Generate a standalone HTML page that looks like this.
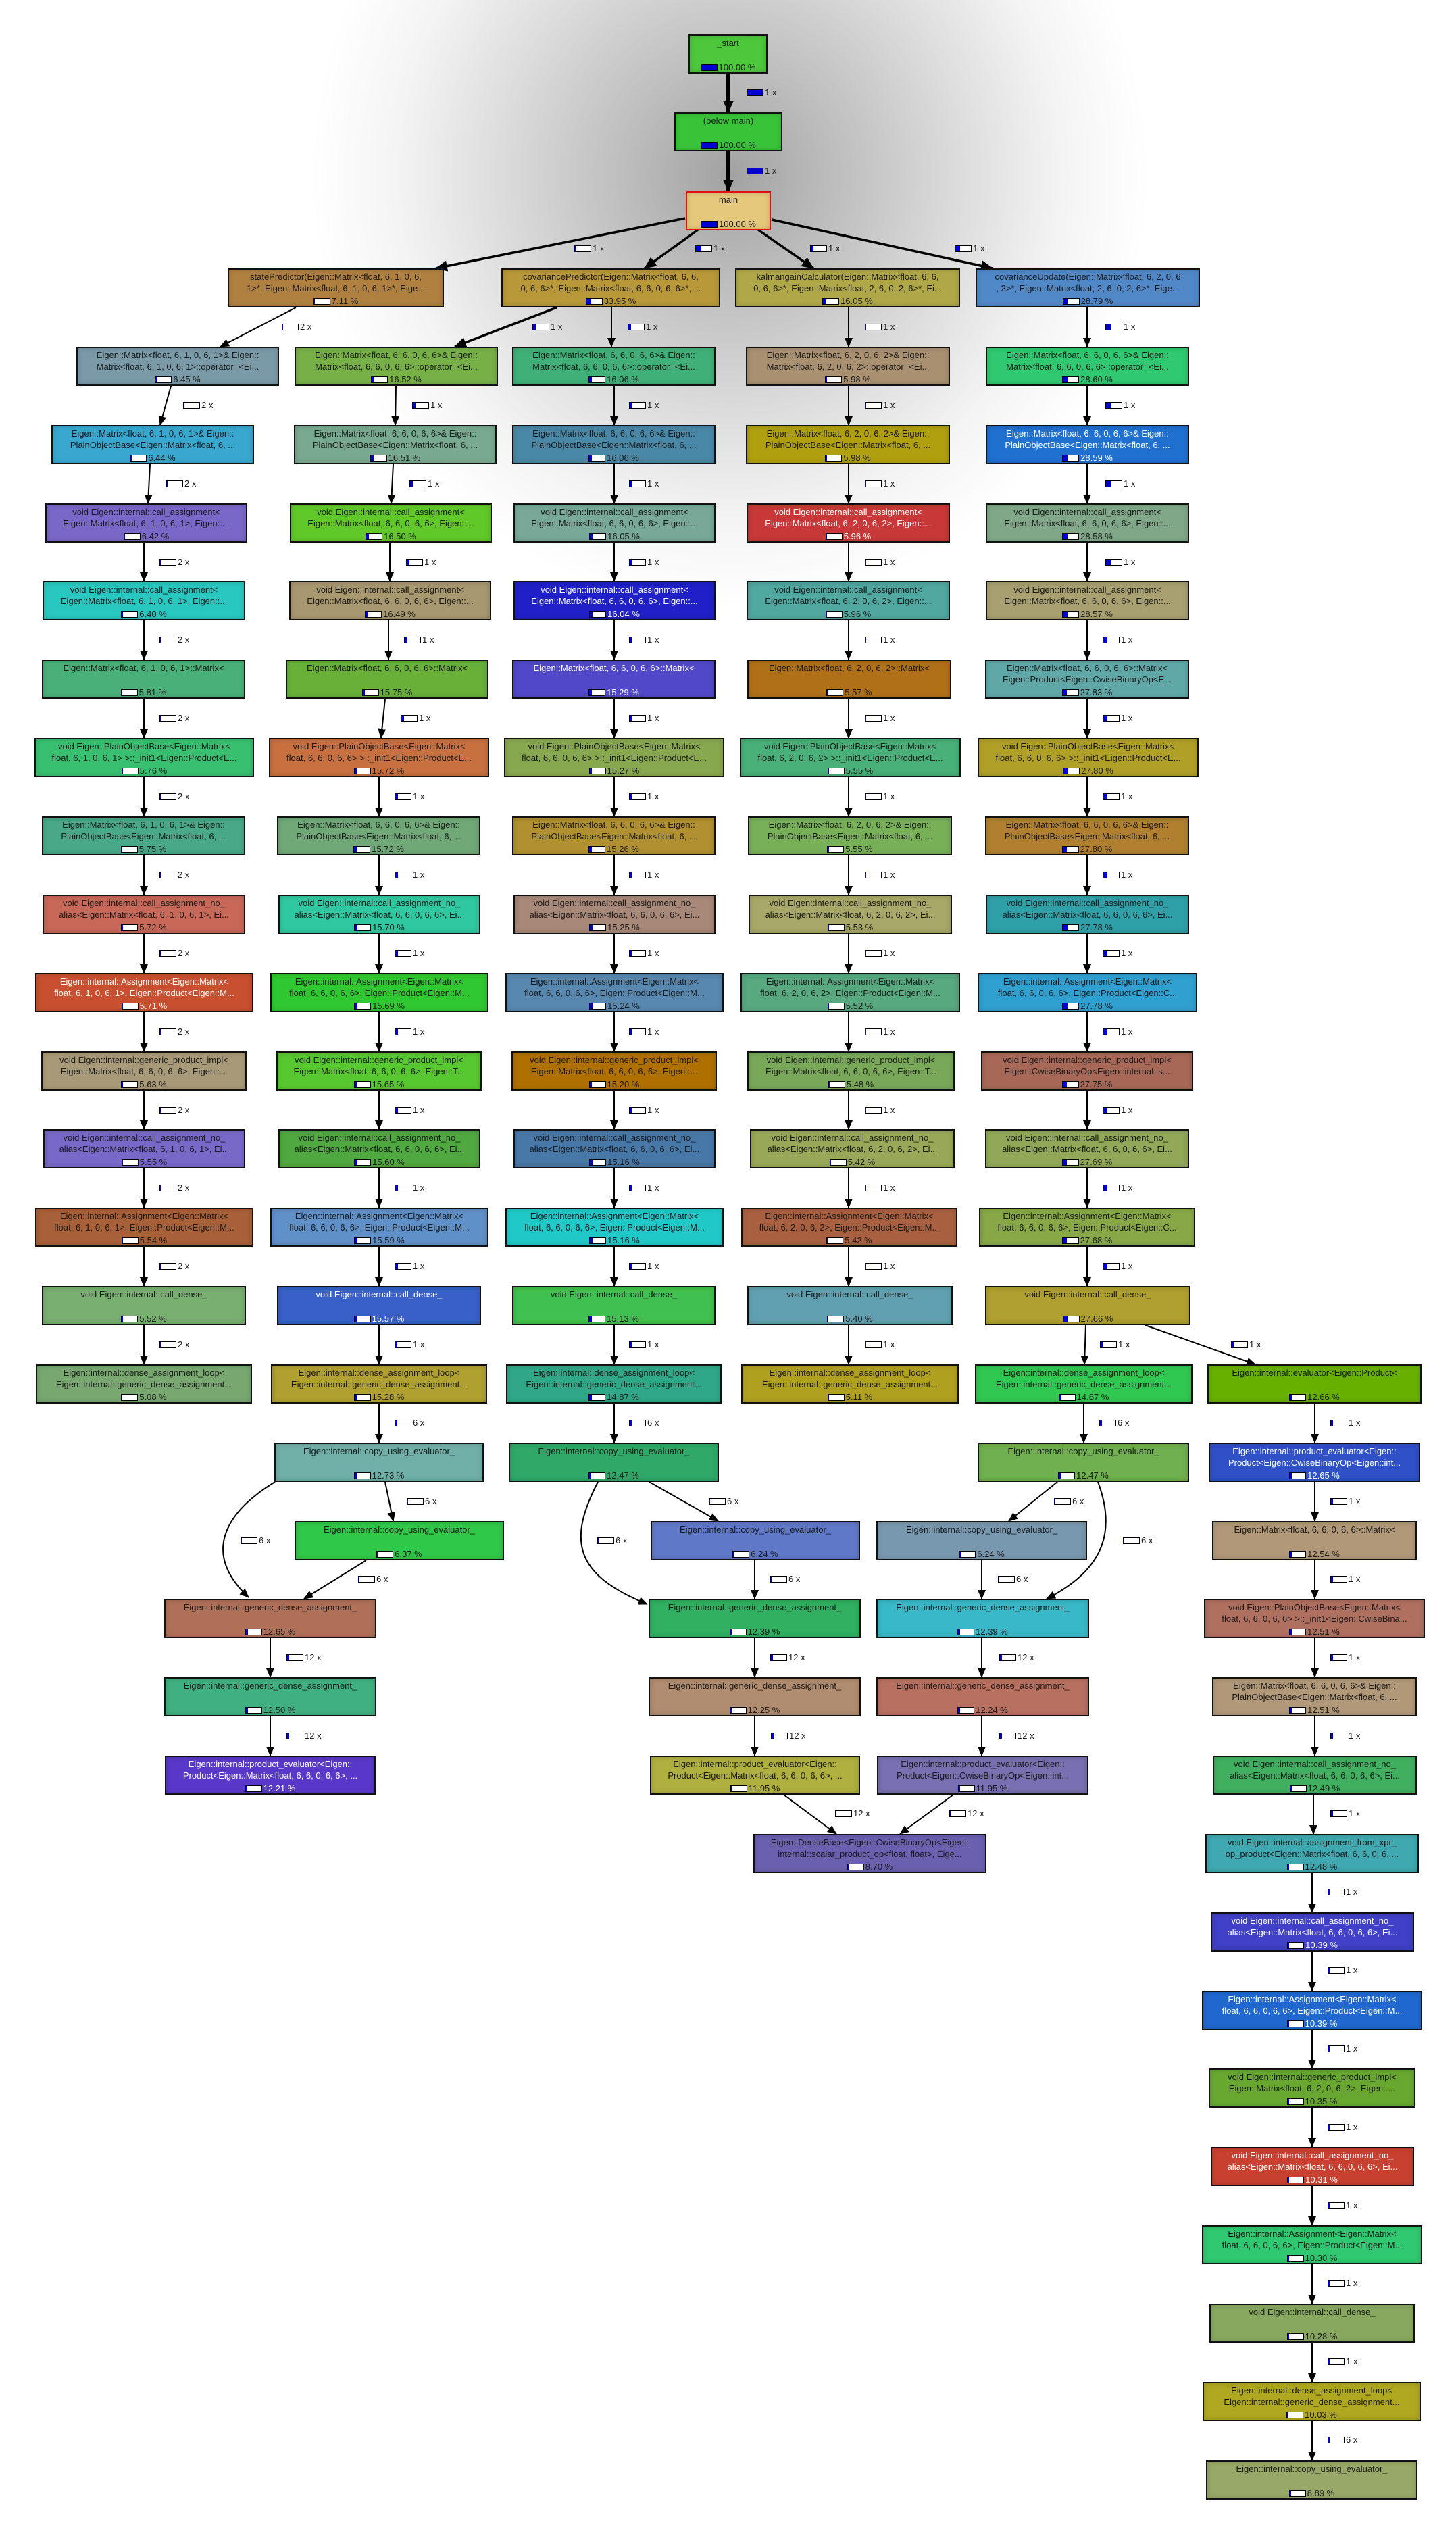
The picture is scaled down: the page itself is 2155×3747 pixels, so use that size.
<!DOCTYPE html>
<html><head><meta charset="utf-8"><style>
html,body{margin:0;padding:0}
body{width:2155px;height:3747px;position:relative;overflow:hidden;background:#fff;font-family:"Liberation Sans",sans-serif;color:#1a1a1a}
#bg{position:absolute;left:0;top:0;width:2155px;height:1100px;background:radial-gradient(ellipse 620px 640px at 1080px 260px,#a2a2a2 0%,#bdbdbd 25%,#dcdcdc 55%,#f4f4f4 80%,rgba(255,255,255,0) 100%)}
svg{position:absolute;left:0;top:0}
.n{position:absolute;height:58px;box-sizing:border-box;border:2px solid #111;box-shadow:inset 0 0 8px rgba(0,0,0,.18)}
.t{position:absolute;top:2px;left:2px;right:2px;text-align:center;font-size:13px;line-height:17px;white-space:nowrap;overflow:hidden}
.p{position:absolute;top:38px;left:0;right:0;text-align:center;font-size:13px;line-height:17px;white-space:nowrap}
i{display:inline-block;width:23px;height:8px;border:1px solid #000;background:#fff;vertical-align:-1px;margin-right:2px;position:relative;overflow:hidden}
b{display:block;height:100%;background:#0000d0}
.w{color:#fff}
.l{position:absolute;font-size:13px;line-height:13px;white-space:nowrap}
</style></head><body>
<div id="bg"></div>
<svg width="2155" height="3747" viewBox="0 0 2155 3747">
<defs><marker id="a" markerUnits="userSpaceOnUse" markerWidth="14" markerHeight="12" refX="13" refY="6" orient="auto"><path d="M0,0 L14,6 L0,12 z" fill="#000"/></marker>
<marker id="A" markerUnits="userSpaceOnUse" markerWidth="18" markerHeight="16" refX="17" refY="8" orient="auto"><path d="M0,0 L18,8 L0,16 z" fill="#000"/></marker></defs>
<g stroke="#000" fill="none" stroke-width="6" marker-end="url(#A)">
<path d="M1078 108 L1078 166"/><path d="M1078 224 L1078 283"/>
</g>
<g stroke="#000" fill="none" stroke-width="3.5" marker-end="url(#A)">
<path d="M1014 323 L645 397"/><path d="M1033 340 L954 397"/><path d="M1122 340 L1204 397"/><path d="M1142 325 L1469 397"/>
<path d="M824 455 L673 513"/>
</g>
<g stroke="#000" fill="none" stroke-width="2" marker-end="url(#a)">
<path d="M438 455 L326 513"/><path d="M905 455 L905 513"/>
<path d="M1256 455 V513"/><path d="M1609 455 V513"/>
<path d="M253 571 L237 629"/><path d="M222 687 L219 745"/>
<path d="M213 803 V860"/><path d="M213 918 V976"/><path d="M213 1034 V1092"/><path d="M213 1150 V1208"/><path d="M213 1266 V1324"/><path d="M213 1382 V1440"/><path d="M213 1498 V1556"/><path d="M213 1614 V1671"/><path d="M213 1729 V1787"/><path d="M213 1845 V1903"/><path d="M213 1961 V2019"/>
<path d="M586 571 L585 629"/><path d="M582 687 L579 745"/><path d="M577 803 V860"/><path d="M575 918 V976"/><path d="M570 1034 L564 1092"/>
<path d="M561 1150 V1208"/><path d="M561 1266 V1324"/><path d="M561 1382 V1440"/><path d="M561 1498 V1556"/><path d="M561 1614 V1671"/><path d="M561 1729 V1787"/><path d="M561 1845 V1903"/><path d="M561 1961 V2019"/><path d="M561 2077 V2135"/>
<path d="M570 2193 L582 2251"/><path d="M407 2193 C330 2240,300 2300,368 2364"/><path d="M542 2309 L450 2366"/><path d="M400 2424 V2482"/><path d="M400 2540 V2598"/>
<path d="M909 571 V629"/><path d="M909 687 V745"/><path d="M909 803 V860"/><path d="M909 918 V976"/><path d="M909 1034 V1092"/><path d="M909 1150 V1208"/><path d="M909 1266 V1324"/><path d="M909 1382 V1440"/><path d="M909 1498 V1556"/><path d="M909 1614 V1671"/><path d="M909 1729 V1787"/><path d="M909 1845 V1903"/><path d="M909 1961 V2019"/><path d="M909 2077 V2135"/>
<path d="M961 2193 L1063 2251"/><path d="M885 2193 C840 2280,850 2330,958 2374"/><path d="M1117 2309 V2366"/><path d="M1117 2424 V2482"/><path d="M1117 2540 V2598"/><path d="M1160 2656 L1238 2714"/>
<path d="M1256 571 V629"/><path d="M1256 687 V745"/><path d="M1256 803 V860"/><path d="M1256 918 V976"/><path d="M1256 1034 V1092"/><path d="M1256 1150 V1208"/><path d="M1256 1266 V1324"/><path d="M1256 1382 V1440"/><path d="M1256 1498 V1556"/><path d="M1256 1614 V1671"/><path d="M1256 1729 V1787"/><path d="M1256 1845 V1903"/><path d="M1256 1961 V2019"/>
<path d="M1609 571 V629"/><path d="M1609 687 V745"/><path d="M1609 803 V860"/><path d="M1609 918 V976"/><path d="M1609 1034 V1092"/><path d="M1609 1150 V1208"/><path d="M1609 1266 V1324"/><path d="M1609 1382 V1440"/><path d="M1609 1498 V1556"/><path d="M1609 1614 V1671"/><path d="M1609 1729 V1787"/><path d="M1609 1845 V1903"/>
<path d="M1607 1961 L1605 2019"/><path d="M1695 1961 L1858 2019"/><path d="M1604 2077 V2135"/>
<path d="M1565 2193 L1493 2251"/><path d="M1625 2193 C1650 2260,1640 2320,1549 2366"/><path d="M1453 2309 V2366"/><path d="M1453 2424 V2482"/><path d="M1453 2540 V2598"/><path d="M1411 2656 L1332 2714"/>
<path d="M1946 2077 V2135"/><path d="M1946 2193 V2251"/><path d="M1946 2309 V2366"/><path d="M1946 2424 V2482"/><path d="M1946 2540 V2598"/><path d="M1944 2656 V2714"/><path d="M1942 2772 V2830"/><path d="M1942 2888 V2946"/><path d="M1942 3004 V3061"/><path d="M1942 3119 V3177"/><path d="M1942 3235 V3293"/><path d="M1942 3351 V3409"/><path d="M1942 3467 V3525"/><path d="M1942 3583 V3641"/>
</g>
</svg>

<!-- top -->
<div class="n" style="left:1019px;top:51px;width:117px;background:#4cc83a"><div class="t">_start</div><div class="p"><i><b style="width:100%"></b></i>100.00 %</div></div>
<div class="n" style="left:998px;top:166px;width:160px;background:#38c438"><div class="t">(below main)</div><div class="p"><i><b style="width:100%"></b></i>100.00 %</div></div>
<div class="n" style="left:1015px;top:283px;width:126px;background:#e6c87c;border-color:#e01010"><div class="t">main</div><div class="p"><i><b style="width:100%"></b></i>100.00 %</div></div>

<!-- row1 -->
<div class="n" style="left:337px;top:397px;width:320px;background:#b08040"><div class="t">statePredictor(Eigen::Matrix&lt;float, 6, 1, 0, 6,<br>1&gt;*, Eigen::Matrix&lt;float, 6, 1, 0, 6, 1&gt;*, Eige...</div><div class="p"><i><b style="width:7%"></b></i>7.11 %</div></div>
<div class="n" style="left:742px;top:397px;width:324px;background:#b89838"><div class="t">covariancePredictor(Eigen::Matrix&lt;float, 6, 6,<br>0, 6, 6&gt;*, Eigen::Matrix&lt;float, 6, 6, 0, 6, 6&gt;*, ...</div><div class="p"><i><b style="width:34%"></b></i>33.95 %</div></div>
<div class="n" style="left:1088px;top:397px;width:333px;background:#b0a848"><div class="t">kalmangainCalculator(Eigen::Matrix&lt;float, 6, 6,<br>0, 6, 6&gt;*, Eigen::Matrix&lt;float, 2, 6, 0, 2, 6&gt;*, Ei...</div><div class="p"><i><b style="width:16%"></b></i>16.05 %</div></div>
<div class="n" style="left:1444px;top:397px;width:332px;background:#5088c8"><div class="t">covarianceUpdate(Eigen::Matrix&lt;float, 6, 2, 0, 6<br>, 2&gt;*, Eigen::Matrix&lt;float, 2, 6, 0, 2, 6&gt;*, Eige...</div><div class="p"><i><b style="width:29%"></b></i>28.79 %</div></div>

<!-- Column A -->
<div class="n" style="left:113px;top:513px;width:300px;background:#7a9aa8"><div class="t">Eigen::Matrix&lt;float, 6, 1, 0, 6, 1&gt;&amp; Eigen::<br>Matrix&lt;float, 6, 1, 0, 6, 1&gt;::operator=&lt;Ei...</div><div class="p"><i><b style="width:6%"></b></i>6.45 %</div></div>
<div class="n" style="left:76px;top:629px;width:300px;background:#38a8d0"><div class="t">Eigen::Matrix&lt;float, 6, 1, 0, 6, 1&gt;&amp; Eigen::<br>PlainObjectBase&lt;Eigen::Matrix&lt;float, 6, ...</div><div class="p"><i><b style="width:6%"></b></i>6.44 %</div></div>
<div class="n" style="left:67px;top:745px;width:299px;background:#7a68c8"><div class="t">void Eigen::internal::call_assignment&lt;<br>Eigen::Matrix&lt;float, 6, 1, 0, 6, 1&gt;, Eigen::...</div><div class="p"><i><b style="width:6%"></b></i>6.42 %</div></div>
<div class="n" style="left:63px;top:860px;width:300px;background:#28c8c0"><div class="t">void Eigen::internal::call_assignment&lt;<br>Eigen::Matrix&lt;float, 6, 1, 0, 6, 1&gt;, Eigen::...</div><div class="p"><i><b style="width:6%"></b></i>6.40 %</div></div>
<div class="n" style="left:62px;top:976px;width:301px;background:#48b078"><div class="t">Eigen::Matrix&lt;float, 6, 1, 0, 6, 1&gt;::Matrix&lt;</div><div class="p"><i><b style="width:6%"></b></i>5.81 %</div></div>
<div class="n" style="left:51px;top:1092px;width:325px;background:#38c070"><div class="t">void Eigen::PlainObjectBase&lt;Eigen::Matrix&lt;<br>float, 6, 1, 0, 6, 1&gt; &gt;::_init1&lt;Eigen::Product&lt;E...</div><div class="p"><i><b style="width:6%"></b></i>5.76 %</div></div>
<div class="n" style="left:62px;top:1208px;width:301px;background:#48a888"><div class="t">Eigen::Matrix&lt;float, 6, 1, 0, 6, 1&gt;&amp; Eigen::<br>PlainObjectBase&lt;Eigen::Matrix&lt;float, 6, ...</div><div class="p"><i><b style="width:6%"></b></i>5.75 %</div></div>
<div class="n" style="left:63px;top:1324px;width:300px;background:#c86858"><div class="t">void Eigen::internal::call_assignment_no_<br>alias&lt;Eigen::Matrix&lt;float, 6, 1, 0, 6, 1&gt;, Ei...</div><div class="p"><i><b style="width:6%"></b></i>5.72 %</div></div>
<div class="n w" style="left:52px;top:1440px;width:323px;background:#c85030"><div class="t">Eigen::internal::Assignment&lt;Eigen::Matrix&lt;<br>float, 6, 1, 0, 6, 1&gt;, Eigen::Product&lt;Eigen::M...</div><div class="p"><i><b style="width:6%"></b></i>5.71 %</div></div>
<div class="n" style="left:61px;top:1556px;width:304px;background:#a89a78"><div class="t">void Eigen::internal::generic_product_impl&lt;<br>Eigen::Matrix&lt;float, 6, 6, 0, 6, 6&gt;, Eigen::...</div><div class="p"><i><b style="width:6%"></b></i>5.63 %</div></div>
<div class="n" style="left:64px;top:1671px;width:299px;background:#7868c8"><div class="t">void Eigen::internal::call_assignment_no_<br>alias&lt;Eigen::Matrix&lt;float, 6, 1, 0, 6, 1&gt;, Ei...</div><div class="p"><i><b style="width:6%"></b></i>5.55 %</div></div>
<div class="n" style="left:52px;top:1787px;width:323px;background:#a86038"><div class="t">Eigen::internal::Assignment&lt;Eigen::Matrix&lt;<br>float, 6, 1, 0, 6, 1&gt;, Eigen::Product&lt;Eigen::M...</div><div class="p"><i><b style="width:6%"></b></i>5.54 %</div></div>
<div class="n" style="left:62px;top:1903px;width:302px;background:#78b070"><div class="t">void Eigen::internal::call_dense_</div><div class="p"><i><b style="width:6%"></b></i>5.52 %</div></div>
<div class="n" style="left:53px;top:2019px;width:320px;background:#78a870"><div class="t">Eigen::internal::dense_assignment_loop&lt;<br>Eigen::internal::generic_dense_assignment...</div><div class="p"><i><b style="width:5%"></b></i>5.08 %</div></div>

<!-- Column B -->
<div class="n" style="left:436px;top:513px;width:301px;background:#78b048"><div class="t">Eigen::Matrix&lt;float, 6, 6, 0, 6, 6&gt;&amp; Eigen::<br>Matrix&lt;float, 6, 6, 0, 6, 6&gt;::operator=&lt;Ei...</div><div class="p"><i><b style="width:17%"></b></i>16.52 %</div></div>
<div class="n" style="left:435px;top:629px;width:300px;background:#78aa90"><div class="t">Eigen::Matrix&lt;float, 6, 6, 0, 6, 6&gt;&amp; Eigen::<br>PlainObjectBase&lt;Eigen::Matrix&lt;float, 6, ...</div><div class="p"><i><b style="width:17%"></b></i>16.51 %</div></div>
<div class="n" style="left:429px;top:745px;width:299px;background:#60c828"><div class="t">void Eigen::internal::call_assignment&lt;<br>Eigen::Matrix&lt;float, 6, 6, 0, 6, 6&gt;, Eigen::...</div><div class="p"><i><b style="width:17%"></b></i>16.50 %</div></div>
<div class="n" style="left:428px;top:860px;width:299px;background:#a89870"><div class="t">void Eigen::internal::call_assignment&lt;<br>Eigen::Matrix&lt;float, 6, 6, 0, 6, 6&gt;, Eigen::...</div><div class="p"><i><b style="width:16%"></b></i>16.49 %</div></div>
<div class="n" style="left:423px;top:976px;width:300px;background:#68b038"><div class="t">Eigen::Matrix&lt;float, 6, 6, 0, 6, 6&gt;::Matrix&lt;</div><div class="p"><i><b style="width:16%"></b></i>15.75 %</div></div>
<div class="n" style="left:398px;top:1092px;width:326px;background:#c87040"><div class="t">void Eigen::PlainObjectBase&lt;Eigen::Matrix&lt;<br>float, 6, 6, 0, 6, 6&gt; &gt;::_init1&lt;Eigen::Product&lt;E...</div><div class="p"><i><b style="width:16%"></b></i>15.72 %</div></div>
<div class="n" style="left:410px;top:1208px;width:301px;background:#70a878"><div class="t">Eigen::Matrix&lt;float, 6, 6, 0, 6, 6&gt;&amp; Eigen::<br>PlainObjectBase&lt;Eigen::Matrix&lt;float, 6, ...</div><div class="p"><i><b style="width:16%"></b></i>15.72 %</div></div>
<div class="n" style="left:412px;top:1324px;width:299px;background:#30c8a0"><div class="t">void Eigen::internal::call_assignment_no_<br>alias&lt;Eigen::Matrix&lt;float, 6, 6, 0, 6, 6&gt;, Ei...</div><div class="p"><i><b style="width:16%"></b></i>15.70 %</div></div>
<div class="n" style="left:400px;top:1440px;width:323px;background:#30c830"><div class="t">Eigen::internal::Assignment&lt;Eigen::Matrix&lt;<br>float, 6, 6, 0, 6, 6&gt;, Eigen::Product&lt;Eigen::M...</div><div class="p"><i><b style="width:16%"></b></i>15.69 %</div></div>
<div class="n" style="left:409px;top:1556px;width:304px;background:#58c830"><div class="t">void Eigen::internal::generic_product_impl&lt;<br>Eigen::Matrix&lt;float, 6, 6, 0, 6, 6&gt;, Eigen::T...</div><div class="p"><i><b style="width:16%"></b></i>15.65 %</div></div>
<div class="n" style="left:412px;top:1671px;width:299px;background:#50a840"><div class="t">void Eigen::internal::call_assignment_no_<br>alias&lt;Eigen::Matrix&lt;float, 6, 6, 0, 6, 6&gt;, Ei...</div><div class="p"><i><b style="width:16%"></b></i>15.60 %</div></div>
<div class="n" style="left:400px;top:1787px;width:323px;background:#6090c8"><div class="t">Eigen::internal::Assignment&lt;Eigen::Matrix&lt;<br>float, 6, 6, 0, 6, 6&gt;, Eigen::Product&lt;Eigen::M...</div><div class="p"><i><b style="width:16%"></b></i>15.59 %</div></div>
<div class="n w" style="left:410px;top:1903px;width:302px;background:#3860c8"><div class="t">void Eigen::internal::call_dense_</div><div class="p"><i><b style="width:16%"></b></i>15.57 %</div></div>
<div class="n" style="left:401px;top:2019px;width:320px;background:#b0a030"><div class="t">Eigen::internal::dense_assignment_loop&lt;<br>Eigen::internal::generic_dense_assignment...</div><div class="p"><i><b style="width:15%"></b></i>15.28 %</div></div>
<div class="n" style="left:406px;top:2135px;width:310px;background:#70b0a8"><div class="t">Eigen::internal::copy_using_evaluator_</div><div class="p"><i><b style="width:13%"></b></i>12.73 %</div></div>
<div class="n" style="left:436px;top:2251px;width:310px;background:#30c848"><div class="t">Eigen::internal::copy_using_evaluator_</div><div class="p"><i><b style="width:6%"></b></i>6.37 %</div></div>
<div class="n" style="left:243px;top:2366px;width:314px;background:#b07058"><div class="t">Eigen::internal::generic_dense_assignment_</div><div class="p"><i><b style="width:13%"></b></i>12.65 %</div></div>
<div class="n" style="left:243px;top:2482px;width:314px;background:#40b080"><div class="t">Eigen::internal::generic_dense_assignment_</div><div class="p"><i><b style="width:13%"></b></i>12.50 %</div></div>
<div class="n w" style="left:244px;top:2598px;width:312px;background:#5838c8"><div class="t">Eigen::internal::product_evaluator&lt;Eigen::<br>Product&lt;Eigen::Matrix&lt;float, 6, 6, 0, 6, 6&gt;, ...</div><div class="p"><i><b style="width:12%"></b></i>12.21 %</div></div>

<!-- Column C -->
<div class="n" style="left:758px;top:513px;width:301px;background:#40b078"><div class="t">Eigen::Matrix&lt;float, 6, 6, 0, 6, 6&gt;&amp; Eigen::<br>Matrix&lt;float, 6, 6, 0, 6, 6&gt;::operator=&lt;Ei...</div><div class="p"><i><b style="width:16%"></b></i>16.06 %</div></div>
<div class="n" style="left:758px;top:629px;width:301px;background:#4a88a8"><div class="t">Eigen::Matrix&lt;float, 6, 6, 0, 6, 6&gt;&amp; Eigen::<br>PlainObjectBase&lt;Eigen::Matrix&lt;float, 6, ...</div><div class="p"><i><b style="width:16%"></b></i>16.06 %</div></div>
<div class="n" style="left:760px;top:745px;width:299px;background:#78a898"><div class="t">void Eigen::internal::call_assignment&lt;<br>Eigen::Matrix&lt;float, 6, 6, 0, 6, 6&gt;, Eigen::...</div><div class="p"><i><b style="width:16%"></b></i>16.05 %</div></div>
<div class="n w" style="left:760px;top:860px;width:299px;background:#2020c8"><div class="t">void Eigen::internal::call_assignment&lt;<br>Eigen::Matrix&lt;float, 6, 6, 0, 6, 6&gt;, Eigen::...</div><div class="p"><i><b style="width:16%"></b></i>16.04 %</div></div>
<div class="n w" style="left:758px;top:976px;width:301px;background:#5048c8"><div class="t">Eigen::Matrix&lt;float, 6, 6, 0, 6, 6&gt;::Matrix&lt;</div><div class="p"><i><b style="width:15%"></b></i>15.29 %</div></div>
<div class="n" style="left:746px;top:1092px;width:326px;background:#88a850"><div class="t">void Eigen::PlainObjectBase&lt;Eigen::Matrix&lt;<br>float, 6, 6, 0, 6, 6&gt; &gt;::_init1&lt;Eigen::Product&lt;E...</div><div class="p"><i><b style="width:15%"></b></i>15.27 %</div></div>
<div class="n" style="left:758px;top:1208px;width:301px;background:#b09030"><div class="t">Eigen::Matrix&lt;float, 6, 6, 0, 6, 6&gt;&amp; Eigen::<br>PlainObjectBase&lt;Eigen::Matrix&lt;float, 6, ...</div><div class="p"><i><b style="width:15%"></b></i>15.26 %</div></div>
<div class="n" style="left:760px;top:1324px;width:299px;background:#a88878"><div class="t">void Eigen::internal::call_assignment_no_<br>alias&lt;Eigen::Matrix&lt;float, 6, 6, 0, 6, 6&gt;, Ei...</div><div class="p"><i><b style="width:15%"></b></i>15.25 %</div></div>
<div class="n" style="left:748px;top:1440px;width:323px;background:#5888b0"><div class="t">Eigen::internal::Assignment&lt;Eigen::Matrix&lt;<br>float, 6, 6, 0, 6, 6&gt;, Eigen::Product&lt;Eigen::M...</div><div class="p"><i><b style="width:15%"></b></i>15.24 %</div></div>
<div class="n" style="left:757px;top:1556px;width:304px;background:#b07000"><div class="t">void Eigen::internal::generic_product_impl&lt;<br>Eigen::Matrix&lt;float, 6, 6, 0, 6, 6&gt;, Eigen::...</div><div class="p"><i><b style="width:15%"></b></i>15.20 %</div></div>
<div class="n" style="left:760px;top:1671px;width:299px;background:#4878a8"><div class="t">void Eigen::internal::call_assignment_no_<br>alias&lt;Eigen::Matrix&lt;float, 6, 6, 0, 6, 6&gt;, Ei...</div><div class="p"><i><b style="width:15%"></b></i>15.16 %</div></div>
<div class="n" style="left:748px;top:1787px;width:323px;background:#20c8c8"><div class="t">Eigen::internal::Assignment&lt;Eigen::Matrix&lt;<br>float, 6, 6, 0, 6, 6&gt;, Eigen::Product&lt;Eigen::M...</div><div class="p"><i><b style="width:15%"></b></i>15.16 %</div></div>
<div class="n" style="left:758px;top:1903px;width:301px;background:#40c050"><div class="t">void Eigen::internal::call_dense_</div><div class="p"><i><b style="width:15%"></b></i>15.13 %</div></div>
<div class="n" style="left:749px;top:2019px;width:319px;background:#30a888"><div class="t">Eigen::internal::dense_assignment_loop&lt;<br>Eigen::internal::generic_dense_assignment...</div><div class="p"><i><b style="width:15%"></b></i>14.87 %</div></div>
<div class="n" style="left:753px;top:2135px;width:311px;background:#30a868"><div class="t">Eigen::internal::copy_using_evaluator_</div><div class="p"><i><b style="width:12%"></b></i>12.47 %</div></div>
<div class="n" style="left:963px;top:2251px;width:310px;background:#6078c8"><div class="t">Eigen::internal::copy_using_evaluator_</div><div class="p"><i><b style="width:6%"></b></i>6.24 %</div></div>
<div class="n" style="left:960px;top:2366px;width:314px;background:#30b060"><div class="t">Eigen::internal::generic_dense_assignment_</div><div class="p"><i><b style="width:12%"></b></i>12.39 %</div></div>
<div class="n" style="left:960px;top:2482px;width:314px;background:#b08c70"><div class="t">Eigen::internal::generic_dense_assignment_</div><div class="p"><i><b style="width:12%"></b></i>12.25 %</div></div>
<div class="n" style="left:962px;top:2598px;width:311px;background:#b0b040"><div class="t">Eigen::internal::product_evaluator&lt;Eigen::<br>Product&lt;Eigen::Matrix&lt;float, 6, 6, 0, 6, 6&gt;, ...</div><div class="p"><i><b style="width:12%"></b></i>11.95 %</div></div>
<div class="n" style="left:1115px;top:2714px;width:345px;background:#6a60b0"><div class="t">Eigen::DenseBase&lt;Eigen::CwiseBinaryOp&lt;Eigen::<br>internal::scalar_product_op&lt;float, float&gt;, Eige...</div><div class="p"><i><b style="width:9%"></b></i>8.70 %</div></div>

<!-- Column D -->
<div class="n" style="left:1104px;top:513px;width:302px;background:#a89070"><div class="t">Eigen::Matrix&lt;float, 6, 2, 0, 6, 2&gt;&amp; Eigen::<br>Matrix&lt;float, 6, 2, 0, 6, 2&gt;::operator=&lt;Ei...</div><div class="p"><i><b style="width:6%"></b></i>5.98 %</div></div>
<div class="n" style="left:1104px;top:629px;width:302px;background:#b0a010"><div class="t">Eigen::Matrix&lt;float, 6, 2, 0, 6, 2&gt;&amp; Eigen::<br>PlainObjectBase&lt;Eigen::Matrix&lt;float, 6, ...</div><div class="p"><i><b style="width:6%"></b></i>5.98 %</div></div>
<div class="n w" style="left:1105px;top:745px;width:301px;background:#c83838"><div class="t">void Eigen::internal::call_assignment&lt;<br>Eigen::Matrix&lt;float, 6, 2, 0, 6, 2&gt;, Eigen::...</div><div class="p"><i><b style="width:6%"></b></i>5.96 %</div></div>
<div class="n" style="left:1105px;top:860px;width:301px;background:#50a8a0"><div class="t">void Eigen::internal::call_assignment&lt;<br>Eigen::Matrix&lt;float, 6, 2, 0, 6, 2&gt;, Eigen::...</div><div class="p"><i><b style="width:6%"></b></i>5.96 %</div></div>
<div class="n" style="left:1106px;top:976px;width:302px;background:#b07018"><div class="t">Eigen::Matrix&lt;float, 6, 2, 0, 6, 2&gt;::Matrix&lt;</div><div class="p"><i><b style="width:6%"></b></i>5.57 %</div></div>
<div class="n" style="left:1095px;top:1092px;width:327px;background:#48b078"><div class="t">void Eigen::PlainObjectBase&lt;Eigen::Matrix&lt;<br>float, 6, 2, 0, 6, 2&gt; &gt;::_init1&lt;Eigen::Product&lt;E...</div><div class="p"><i><b style="width:6%"></b></i>5.55 %</div></div>
<div class="n" style="left:1107px;top:1208px;width:302px;background:#78b058"><div class="t">Eigen::Matrix&lt;float, 6, 2, 0, 6, 2&gt;&amp; Eigen::<br>PlainObjectBase&lt;Eigen::Matrix&lt;float, 6, ...</div><div class="p"><i><b style="width:6%"></b></i>5.55 %</div></div>
<div class="n" style="left:1108px;top:1324px;width:301px;background:#a8a868"><div class="t">void Eigen::internal::call_assignment_no_<br>alias&lt;Eigen::Matrix&lt;float, 6, 2, 0, 6, 2&gt;, Ei...</div><div class="p"><i><b style="width:6%"></b></i>5.53 %</div></div>
<div class="n" style="left:1096px;top:1440px;width:325px;background:#58a880"><div class="t">Eigen::internal::Assignment&lt;Eigen::Matrix&lt;<br>float, 6, 2, 0, 6, 2&gt;, Eigen::Product&lt;Eigen::M...</div><div class="p"><i><b style="width:6%"></b></i>5.52 %</div></div>
<div class="n" style="left:1106px;top:1556px;width:307px;background:#78a858"><div class="t">void Eigen::internal::generic_product_impl&lt;<br>Eigen::Matrix&lt;float, 6, 6, 0, 6, 6&gt;, Eigen::T...</div><div class="p"><i><b style="width:5%"></b></i>5.48 %</div></div>
<div class="n" style="left:1110px;top:1671px;width:303px;background:#98a858"><div class="t">void Eigen::internal::call_assignment_no_<br>alias&lt;Eigen::Matrix&lt;float, 6, 2, 0, 6, 2&gt;, Ei...</div><div class="p"><i><b style="width:5%"></b></i>5.42 %</div></div>
<div class="n" style="left:1097px;top:1787px;width:320px;background:#a86040"><div class="t">Eigen::internal::Assignment&lt;Eigen::Matrix&lt;<br>float, 6, 2, 0, 6, 2&gt;, Eigen::Product&lt;Eigen::M...</div><div class="p"><i><b style="width:5%"></b></i>5.42 %</div></div>
<div class="n" style="left:1106px;top:1903px;width:304px;background:#60a0b0"><div class="t">void Eigen::internal::call_dense_</div><div class="p"><i><b style="width:5%"></b></i>5.40 %</div></div>
<div class="n" style="left:1097px;top:2019px;width:322px;background:#b0a020"><div class="t">Eigen::internal::dense_assignment_loop&lt;<br>Eigen::internal::generic_dense_assignment...</div><div class="p"><i><b style="width:5%"></b></i>5.11 %</div></div>

<!-- Column E -->
<div class="n" style="left:1459px;top:513px;width:301px;background:#30c870"><div class="t">Eigen::Matrix&lt;float, 6, 6, 0, 6, 6&gt;&amp; Eigen::<br>Matrix&lt;float, 6, 6, 0, 6, 6&gt;::operator=&lt;Ei...</div><div class="p"><i><b style="width:29%"></b></i>28.60 %</div></div>
<div class="n w" style="left:1459px;top:629px;width:301px;background:#2070d0"><div class="t">Eigen::Matrix&lt;float, 6, 6, 0, 6, 6&gt;&amp; Eigen::<br>PlainObjectBase&lt;Eigen::Matrix&lt;float, 6, ...</div><div class="p"><i><b style="width:29%"></b></i>28.59 %</div></div>
<div class="n" style="left:1459px;top:745px;width:301px;background:#80a888"><div class="t">void Eigen::internal::call_assignment&lt;<br>Eigen::Matrix&lt;float, 6, 6, 0, 6, 6&gt;, Eigen::...</div><div class="p"><i><b style="width:29%"></b></i>28.58 %</div></div>
<div class="n" style="left:1459px;top:860px;width:301px;background:#a8a070"><div class="t">void Eigen::internal::call_assignment&lt;<br>Eigen::Matrix&lt;float, 6, 6, 0, 6, 6&gt;, Eigen::...</div><div class="p"><i><b style="width:29%"></b></i>28.57 %</div></div>
<div class="n" style="left:1458px;top:976px;width:302px;background:#60a8a8"><div class="t">Eigen::Matrix&lt;float, 6, 6, 0, 6, 6&gt;::Matrix&lt;<br>Eigen::Product&lt;Eigen::CwiseBinaryOp&lt;E...</div><div class="p"><i><b style="width:28%"></b></i>27.83 %</div></div>
<div class="n" style="left:1447px;top:1092px;width:327px;background:#b0a028"><div class="t">void Eigen::PlainObjectBase&lt;Eigen::Matrix&lt;<br>float, 6, 6, 0, 6, 6&gt; &gt;::_init1&lt;Eigen::Product&lt;E...</div><div class="p"><i><b style="width:28%"></b></i>27.80 %</div></div>
<div class="n" style="left:1458px;top:1208px;width:302px;background:#b08030"><div class="t">Eigen::Matrix&lt;float, 6, 6, 0, 6, 6&gt;&amp; Eigen::<br>PlainObjectBase&lt;Eigen::Matrix&lt;float, 6, ...</div><div class="p"><i><b style="width:28%"></b></i>27.80 %</div></div>
<div class="n" style="left:1459px;top:1324px;width:301px;background:#30a0a8"><div class="t">void Eigen::internal::call_assignment_no_<br>alias&lt;Eigen::Matrix&lt;float, 6, 6, 0, 6, 6&gt;, Ei...</div><div class="p"><i><b style="width:28%"></b></i>27.78 %</div></div>
<div class="n" style="left:1447px;top:1440px;width:325px;background:#30a0d0"><div class="t">Eigen::internal::Assignment&lt;Eigen::Matrix&lt;<br>float, 6, 6, 0, 6, 6&gt;, Eigen::Product&lt;Eigen::C...</div><div class="p"><i><b style="width:28%"></b></i>27.78 %</div></div>
<div class="n" style="left:1452px;top:1556px;width:314px;background:#a86858"><div class="t">void Eigen::internal::generic_product_impl&lt;<br>Eigen::CwiseBinaryOp&lt;Eigen::internal::s...</div><div class="p"><i><b style="width:28%"></b></i>27.75 %</div></div>
<div class="n" style="left:1458px;top:1671px;width:302px;background:#90a858"><div class="t">void Eigen::internal::call_assignment_no_<br>alias&lt;Eigen::Matrix&lt;float, 6, 6, 0, 6, 6&gt;, Ei...</div><div class="p"><i><b style="width:28%"></b></i>27.69 %</div></div>
<div class="n" style="left:1449px;top:1787px;width:320px;background:#88a848"><div class="t">Eigen::internal::Assignment&lt;Eigen::Matrix&lt;<br>float, 6, 6, 0, 6, 6&gt;, Eigen::Product&lt;Eigen::C...</div><div class="p"><i><b style="width:28%"></b></i>27.68 %</div></div>
<div class="n" style="left:1458px;top:1903px;width:304px;background:#b0a030"><div class="t">void Eigen::internal::call_dense_</div><div class="p"><i><b style="width:28%"></b></i>27.66 %</div></div>
<div class="n" style="left:1443px;top:2019px;width:322px;background:#30c850"><div class="t">Eigen::internal::dense_assignment_loop&lt;<br>Eigen::internal::generic_dense_assignment...</div><div class="p"><i><b style="width:15%"></b></i>14.87 %</div></div>
<div class="n" style="left:1447px;top:2135px;width:313px;background:#70b050"><div class="t">Eigen::internal::copy_using_evaluator_</div><div class="p"><i><b style="width:12%"></b></i>12.47 %</div></div>
<div class="n" style="left:1297px;top:2251px;width:312px;background:#7898b0"><div class="t">Eigen::internal::copy_using_evaluator_</div><div class="p"><i><b style="width:6%"></b></i>6.24 %</div></div>
<div class="n" style="left:1297px;top:2366px;width:315px;background:#38b8c8"><div class="t">Eigen::internal::generic_dense_assignment_</div><div class="p"><i><b style="width:12%"></b></i>12.39 %</div></div>
<div class="n" style="left:1297px;top:2482px;width:315px;background:#b87060"><div class="t">Eigen::internal::generic_dense_assignment_</div><div class="p"><i><b style="width:12%"></b></i>12.24 %</div></div>
<div class="n" style="left:1298px;top:2598px;width:313px;background:#7870b0"><div class="t">Eigen::internal::product_evaluator&lt;Eigen::<br>Product&lt;Eigen::CwiseBinaryOp&lt;Eigen::int...</div><div class="p"><i><b style="width:12%"></b></i>11.95 %</div></div>

<!-- Column F -->
<div class="n" style="left:1787px;top:2019px;width:317px;background:#68b000"><div class="t">Eigen::internal::evaluator&lt;Eigen::Product&lt;</div><div class="p"><i><b style="width:13%"></b></i>12.66 %</div></div>
<div class="n w" style="left:1789px;top:2135px;width:313px;background:#3050c8"><div class="t">Eigen::internal::product_evaluator&lt;Eigen::<br>Product&lt;Eigen::CwiseBinaryOp&lt;Eigen::int...</div><div class="p"><i><b style="width:13%"></b></i>12.65 %</div></div>
<div class="n" style="left:1794px;top:2251px;width:303px;background:#b09878"><div class="t">Eigen::Matrix&lt;float, 6, 6, 0, 6, 6&gt;::Matrix&lt;</div><div class="p"><i><b style="width:13%"></b></i>12.54 %</div></div>
<div class="n" style="left:1782px;top:2366px;width:327px;background:#b07060"><div class="t">void Eigen::PlainObjectBase&lt;Eigen::Matrix&lt;<br>float, 6, 6, 0, 6, 6&gt; &gt;::_init1&lt;Eigen::CwiseBina...</div><div class="p"><i><b style="width:13%"></b></i>12.51 %</div></div>
<div class="n" style="left:1794px;top:2482px;width:303px;background:#b09878"><div class="t">Eigen::Matrix&lt;float, 6, 6, 0, 6, 6&gt;&amp; Eigen::<br>PlainObjectBase&lt;Eigen::Matrix&lt;float, 6, ...</div><div class="p"><i><b style="width:13%"></b></i>12.51 %</div></div>
<div class="n" style="left:1795px;top:2598px;width:302px;background:#40b060"><div class="t">void Eigen::internal::call_assignment_no_<br>alias&lt;Eigen::Matrix&lt;float, 6, 6, 0, 6, 6&gt;, Ei...</div><div class="p"><i><b style="width:12%"></b></i>12.49 %</div></div>
<div class="n" style="left:1784px;top:2714px;width:316px;background:#40a8b0"><div class="t">void Eigen::internal::assignment_from_xpr_<br>op_product&lt;Eigen::Matrix&lt;float, 6, 6, 0, 6, ...</div><div class="p"><i><b style="width:12%"></b></i>12.48 %</div></div>
<div class="n w" style="left:1792px;top:2830px;width:301px;background:#4040c8"><div class="t">void Eigen::internal::call_assignment_no_<br>alias&lt;Eigen::Matrix&lt;float, 6, 6, 0, 6, 6&gt;, Ei...</div><div class="p"><i><b style="width:10%"></b></i>10.39 %</div></div>
<div class="n w" style="left:1779px;top:2946px;width:326px;background:#2068d0"><div class="t">Eigen::internal::Assignment&lt;Eigen::Matrix&lt;<br>float, 6, 6, 0, 6, 6&gt;, Eigen::Product&lt;Eigen::M...</div><div class="p"><i><b style="width:10%"></b></i>10.39 %</div></div>
<div class="n" style="left:1789px;top:3061px;width:306px;background:#68a830"><div class="t">void Eigen::internal::generic_product_impl&lt;<br>Eigen::Matrix&lt;float, 6, 2, 0, 6, 2&gt;, Eigen::...</div><div class="p"><i><b style="width:10%"></b></i>10.35 %</div></div>
<div class="n w" style="left:1792px;top:3177px;width:301px;background:#c84030"><div class="t">void Eigen::internal::call_assignment_no_<br>alias&lt;Eigen::Matrix&lt;float, 6, 6, 0, 6, 6&gt;, Ei...</div><div class="p"><i><b style="width:10%"></b></i>10.31 %</div></div>
<div class="n" style="left:1779px;top:3293px;width:326px;background:#30c870"><div class="t">Eigen::internal::Assignment&lt;Eigen::Matrix&lt;<br>float, 6, 6, 0, 6, 6&gt;, Eigen::Product&lt;Eigen::M...</div><div class="p"><i><b style="width:10%"></b></i>10.30 %</div></div>
<div class="n" style="left:1790px;top:3409px;width:304px;background:#88a860"><div class="t">void Eigen::internal::call_dense_</div><div class="p"><i><b style="width:10%"></b></i>10.28 %</div></div>
<div class="n" style="left:1780px;top:3525px;width:323px;background:#b0a820"><div class="t">Eigen::internal::dense_assignment_loop&lt;<br>Eigen::internal::generic_dense_assignment...</div><div class="p"><i><b style="width:10%"></b></i>10.03 %</div></div>
<div class="n" style="left:1785px;top:3641px;width:313px;background:#98a868"><div class="t">Eigen::internal::copy_using_evaluator_</div><div class="p"><i><b style="width:9%"></b></i>8.89 %</div></div>

<!-- edge labels -->
<div class="l" style="left:1105px;top:130px"><i><b style="width:100%"></b></i>1 x</div>
<div class="l" style="left:1105px;top:246px"><i><b style="width:100%"></b></i>1 x</div>
<div class="l" style="left:850px;top:361px"><i><b style="width:7%"></b></i>1 x</div>
<div class="l" style="left:1029px;top:361px"><i><b style="width:34%"></b></i>1 x</div>
<div class="l" style="left:1199px;top:361px"><i><b style="width:16%"></b></i>1 x</div>
<div class="l" style="left:1413px;top:361px"><i><b style="width:29%"></b></i>1 x</div>

<div class="l" style="left:417px;top:477px"><i><b style="width:6%"></b></i>2 x</div>
<div class="l" style="left:271px;top:593px"><i><b style="width:6%"></b></i>2 x</div>
<div class="l" style="left:246px;top:709px"><i><b style="width:6%"></b></i>2 x</div>
<div class="l" style="left:236px;top:825px"><i><b style="width:6%"></b></i>2 x</div>
<div class="l" style="left:236px;top:940px"><i><b style="width:6%"></b></i>2 x</div>
<div class="l" style="left:236px;top:1056px"><i><b style="width:6%"></b></i>2 x</div>
<div class="l" style="left:236px;top:1172px"><i><b style="width:6%"></b></i>2 x</div>
<div class="l" style="left:236px;top:1288px"><i><b style="width:6%"></b></i>2 x</div>
<div class="l" style="left:236px;top:1404px"><i><b style="width:6%"></b></i>2 x</div>
<div class="l" style="left:236px;top:1520px"><i><b style="width:6%"></b></i>2 x</div>
<div class="l" style="left:236px;top:1636px"><i><b style="width:6%"></b></i>2 x</div>
<div class="l" style="left:236px;top:1751px"><i><b style="width:6%"></b></i>2 x</div>
<div class="l" style="left:236px;top:1867px"><i><b style="width:6%"></b></i>2 x</div>
<div class="l" style="left:236px;top:1983px"><i><b style="width:6%"></b></i>2 x</div>

<div class="l" style="left:788px;top:477px"><i><b style="width:17%"></b></i>1 x</div>
<div class="l" style="left:929px;top:477px"><i><b style="width:16%"></b></i>1 x</div>
<div class="l" style="left:610px;top:593px"><i><b style="width:17%"></b></i>1 x</div>
<div class="l" style="left:606px;top:709px"><i><b style="width:17%"></b></i>1 x</div>
<div class="l" style="left:601px;top:825px"><i><b style="width:16%"></b></i>1 x</div>
<div class="l" style="left:598px;top:940px"><i><b style="width:16%"></b></i>1 x</div>
<div class="l" style="left:593px;top:1056px"><i><b style="width:16%"></b></i>1 x</div>
<div class="l" style="left:584px;top:1172px"><i><b style="width:16%"></b></i>1 x</div>
<div class="l" style="left:584px;top:1288px"><i><b style="width:16%"></b></i>1 x</div>
<div class="l" style="left:584px;top:1404px"><i><b style="width:16%"></b></i>1 x</div>
<div class="l" style="left:584px;top:1520px"><i><b style="width:16%"></b></i>1 x</div>
<div class="l" style="left:584px;top:1636px"><i><b style="width:16%"></b></i>1 x</div>
<div class="l" style="left:584px;top:1751px"><i><b style="width:16%"></b></i>1 x</div>
<div class="l" style="left:584px;top:1867px"><i><b style="width:16%"></b></i>1 x</div>
<div class="l" style="left:584px;top:1983px"><i><b style="width:15%"></b></i>1 x</div>
<div class="l" style="left:584px;top:2099px"><i><b style="width:13%"></b></i>6 x</div>
<div class="l" style="left:602px;top:2215px"><i><b style="width:6%"></b></i>6 x</div>
<div class="l" style="left:356px;top:2273px"><i><b style="width:6%"></b></i>6 x</div>
<div class="l" style="left:530px;top:2330px"><i><b style="width:6%"></b></i>6 x</div>
<div class="l" style="left:424px;top:2446px"><i><b style="width:12%"></b></i>12 x</div>
<div class="l" style="left:424px;top:2562px"><i><b style="width:12%"></b></i>12 x</div>

<div class="l" style="left:931px;top:593px"><i><b style="width:16%"></b></i>1 x</div>
<div class="l" style="left:931px;top:709px"><i><b style="width:16%"></b></i>1 x</div>
<div class="l" style="left:931px;top:825px"><i><b style="width:16%"></b></i>1 x</div>
<div class="l" style="left:931px;top:940px"><i><b style="width:15%"></b></i>1 x</div>
<div class="l" style="left:931px;top:1056px"><i><b style="width:15%"></b></i>1 x</div>
<div class="l" style="left:931px;top:1172px"><i><b style="width:15%"></b></i>1 x</div>
<div class="l" style="left:931px;top:1288px"><i><b style="width:15%"></b></i>1 x</div>
<div class="l" style="left:931px;top:1404px"><i><b style="width:15%"></b></i>1 x</div>
<div class="l" style="left:931px;top:1520px"><i><b style="width:15%"></b></i>1 x</div>
<div class="l" style="left:931px;top:1636px"><i><b style="width:15%"></b></i>1 x</div>
<div class="l" style="left:931px;top:1751px"><i><b style="width:15%"></b></i>1 x</div>
<div class="l" style="left:931px;top:1867px"><i><b style="width:15%"></b></i>1 x</div>
<div class="l" style="left:931px;top:1983px"><i><b style="width:15%"></b></i>1 x</div>
<div class="l" style="left:931px;top:2099px"><i><b style="width:12%"></b></i>6 x</div>
<div class="l" style="left:1049px;top:2215px"><i><b style="width:6%"></b></i>6 x</div>
<div class="l" style="left:884px;top:2273px"><i><b style="width:6%"></b></i>6 x</div>
<div class="l" style="left:1140px;top:2330px"><i><b style="width:6%"></b></i>6 x</div>
<div class="l" style="left:1140px;top:2446px"><i><b style="width:12%"></b></i>12 x</div>
<div class="l" style="left:1141px;top:2562px"><i><b style="width:12%"></b></i>12 x</div>
<div class="l" style="left:1236px;top:2677px"><i><b style="width:5%"></b></i>12 x</div>

<div class="l" style="left:1280px;top:477px"><i><b style="width:6%"></b></i>1 x</div>
<div class="l" style="left:1280px;top:593px"><i><b style="width:6%"></b></i>1 x</div>
<div class="l" style="left:1280px;top:709px"><i><b style="width:6%"></b></i>1 x</div>
<div class="l" style="left:1280px;top:825px"><i><b style="width:6%"></b></i>1 x</div>
<div class="l" style="left:1280px;top:940px"><i><b style="width:6%"></b></i>1 x</div>
<div class="l" style="left:1280px;top:1056px"><i><b style="width:6%"></b></i>1 x</div>
<div class="l" style="left:1280px;top:1172px"><i><b style="width:6%"></b></i>1 x</div>
<div class="l" style="left:1280px;top:1288px"><i><b style="width:6%"></b></i>1 x</div>
<div class="l" style="left:1280px;top:1404px"><i><b style="width:6%"></b></i>1 x</div>
<div class="l" style="left:1280px;top:1520px"><i><b style="width:5%"></b></i>1 x</div>
<div class="l" style="left:1280px;top:1636px"><i><b style="width:5%"></b></i>1 x</div>
<div class="l" style="left:1280px;top:1751px"><i><b style="width:5%"></b></i>1 x</div>
<div class="l" style="left:1280px;top:1867px"><i><b style="width:5%"></b></i>1 x</div>
<div class="l" style="left:1280px;top:1983px"><i><b style="width:5%"></b></i>1 x</div>

<div class="l" style="left:1636px;top:477px"><i><b style="width:29%"></b></i>1 x</div>
<div class="l" style="left:1636px;top:593px"><i><b style="width:29%"></b></i>1 x</div>
<div class="l" style="left:1636px;top:709px"><i><b style="width:29%"></b></i>1 x</div>
<div class="l" style="left:1636px;top:825px"><i><b style="width:29%"></b></i>1 x</div>
<div class="l" style="left:1632px;top:940px"><i><b style="width:28%"></b></i>1 x</div>
<div class="l" style="left:1632px;top:1056px"><i><b style="width:28%"></b></i>1 x</div>
<div class="l" style="left:1632px;top:1172px"><i><b style="width:28%"></b></i>1 x</div>
<div class="l" style="left:1632px;top:1288px"><i><b style="width:28%"></b></i>1 x</div>
<div class="l" style="left:1632px;top:1404px"><i><b style="width:28%"></b></i>1 x</div>
<div class="l" style="left:1632px;top:1520px"><i><b style="width:28%"></b></i>1 x</div>
<div class="l" style="left:1632px;top:1636px"><i><b style="width:28%"></b></i>1 x</div>
<div class="l" style="left:1632px;top:1751px"><i><b style="width:28%"></b></i>1 x</div>
<div class="l" style="left:1632px;top:1867px"><i><b style="width:28%"></b></i>1 x</div>
<div class="l" style="left:1628px;top:1983px"><i><b style="width:15%"></b></i>1 x</div>
<div class="l" style="left:1822px;top:1983px"><i><b style="width:13%"></b></i>1 x</div>
<div class="l" style="left:1627px;top:2099px"><i><b style="width:12%"></b></i>6 x</div>
<div class="l" style="left:1560px;top:2215px"><i><b style="width:6%"></b></i>6 x</div>
<div class="l" style="left:1662px;top:2273px"><i><b style="width:6%"></b></i>6 x</div>
<div class="l" style="left:1477px;top:2330px"><i><b style="width:6%"></b></i>6 x</div>
<div class="l" style="left:1479px;top:2446px"><i><b style="width:12%"></b></i>12 x</div>
<div class="l" style="left:1479px;top:2562px"><i><b style="width:12%"></b></i>12 x</div>
<div class="l" style="left:1405px;top:2677px"><i><b style="width:5%"></b></i>12 x</div>

<div class="l" style="left:1969px;top:2099px"><i><b style="width:13%"></b></i>1 x</div>
<div class="l" style="left:1969px;top:2215px"><i><b style="width:13%"></b></i>1 x</div>
<div class="l" style="left:1969px;top:2330px"><i><b style="width:13%"></b></i>1 x</div>
<div class="l" style="left:1969px;top:2446px"><i><b style="width:13%"></b></i>1 x</div>
<div class="l" style="left:1969px;top:2562px"><i><b style="width:12%"></b></i>1 x</div>
<div class="l" style="left:1969px;top:2677px"><i><b style="width:12%"></b></i>1 x</div>
<div class="l" style="left:1965px;top:2793px"><i><b style="width:10%"></b></i>1 x</div>
<div class="l" style="left:1965px;top:2909px"><i><b style="width:10%"></b></i>1 x</div>
<div class="l" style="left:1965px;top:3025px"><i><b style="width:10%"></b></i>1 x</div>
<div class="l" style="left:1965px;top:3141px"><i><b style="width:10%"></b></i>1 x</div>
<div class="l" style="left:1965px;top:3257px"><i><b style="width:10%"></b></i>1 x</div>
<div class="l" style="left:1965px;top:3372px"><i><b style="width:10%"></b></i>1 x</div>
<div class="l" style="left:1965px;top:3488px"><i><b style="width:10%"></b></i>1 x</div>
<div class="l" style="left:1965px;top:3604px"><i><b style="width:9%"></b></i>6 x</div>
</body></html>
